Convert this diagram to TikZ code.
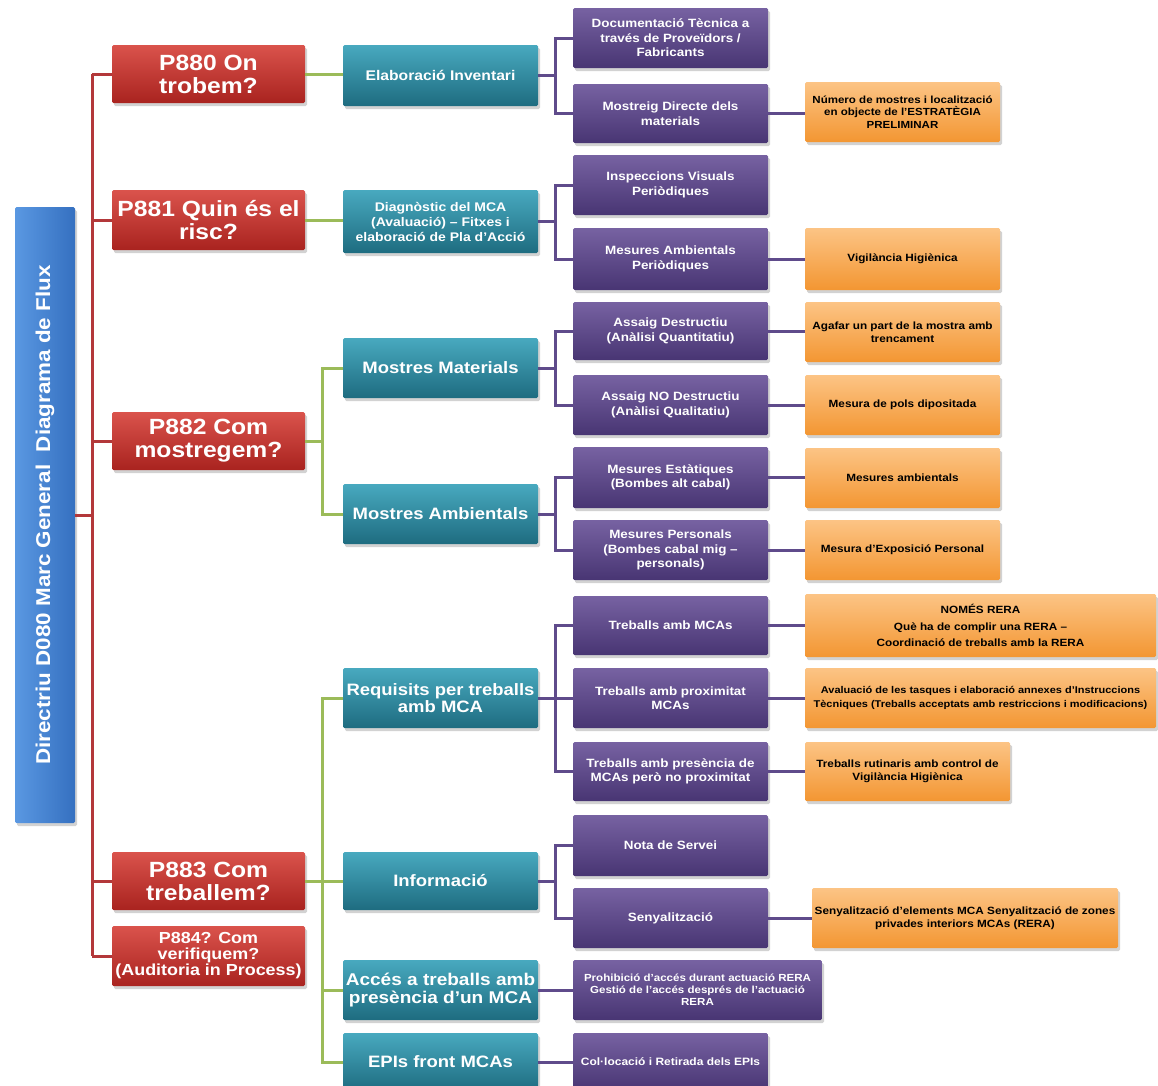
\documentclass[tikz,border=0pt]{standalone}
\usepackage{fontspec}
\setmainfont[FakeStretch=1.12]{Liberation Sans}
\usetikzlibrary{shadows}
\definecolor{redT}{HTML}{DA534C}
\definecolor{redB}{HTML}{A9231F}
\definecolor{tealT}{HTML}{48A9BF}
\definecolor{tealB}{HTML}{1E6C80}
\definecolor{purT}{HTML}{7762A2}
\definecolor{purB}{HTML}{483573}
\definecolor{orT}{HTML}{FCC485}
\definecolor{orB}{HTML}{F39632}
\definecolor{bluL}{HTML}{5A98E2}
\definecolor{bluR}{HTML}{3570C0}
\definecolor{redL}{HTML}{B3383A}
\definecolor{grnL}{HTML}{9BBB59}
\definecolor{purL}{HTML}{5F4B8B}
\newcommand{\fs}[2]{\fontsize{#1}{#2}\selectfont}
\begin{document}
\begin{tikzpicture}[x=1pt,y=-1pt,
  box/.style={draw=none, rounded corners=1.5pt, align=center, inner sep=2pt,
    drop shadow={opacity=0.35, shadow xshift=2pt, shadow yshift=-3pt}},
  redbox/.style={box, top color=redT, bottom color=redB, text=white, minimum width=193, minimum height=58, font=\bfseries\fs{22}{23}},
  tealbox/.style={box, top color=tealT, bottom color=tealB, text=white, minimum width=195, minimum height=60, font=\bfseries\fs{16.5}{17}},
  purbox/.style={box, top color=purT, bottom color=purB, text=white, minimum width=195, minimum height=59, font=\bfseries\fs{12}{14.5}},
  orbox/.style={box, top color=orT, bottom color=orB, text=black, minimum width=195, minimum height=60, font=\bfseries\fs{10.5}{13.5}},
  redline/.style={draw=redL, line width=3pt},
  grnline/.style={draw=grnL, line width=3pt},
  purline/.style={draw=purL, line width=3pt}
]
\useasboundingbox[fill=white] (0,0) rectangle (1158,1085);

% main blue box
\node[box, left color=bluL, right color=bluR, text=white, rotate=90,
  minimum width=616, minimum height=60, font=\bfseries\fs{20}{21}] (main) at (45,515)
  {Directriu D080 Marc General\ \ Diagrama de Flux};

% red boxes
\node[redbox] (p880) at (208.5,74) {P880 On\\trobem?};
\node[redbox, minimum height=60] (p881) at (208.5,220) {P881 Quin és el\\risc?};
\node[redbox] (p882) at (208.5,441) {P882 Com\\mostregem?};
\node[redbox] (p883) at (208.5,881) {P883 Com\\treballem?};
\node[redbox, minimum height=60, font=\bfseries\fs{16}{16}] (p884) at (208.5,956) {P884? Com\\verifiquem?\\(Auditoria in Process)};

% teal boxes
\node[tealbox, minimum height=61, font=\bfseries\fs{14}{15}] (ei) at (440.5,75.5) {Elaboració Inventari};
\node[tealbox, minimum height=63, font=\bfseries\fs{12.5}{15}] (dg) at (440.5,221.5) {Diagnòstic del MCA\\(Avaluació) – Fitxes i\\elaboració de Pla d'Acció};
\node[tealbox] (mm) at (440.5,368) {Mostres Materials};
\node[tealbox] (ma) at (440.5,514) {Mostres Ambientals};
\node[tealbox, font=\bfseries\fs{16.5}{16.5}] (req) at (440.5,698) {Requisits per treballs\\amb MCA};
\node[tealbox, minimum height=58] (info) at (440.5,881) {Informació};
\node[tealbox, font=\bfseries\fs{17}{18}] (acc) at (440.5,990) {Accés a treballs amb\\presència d'un MCA};
\node[tealbox, minimum height=58] (epi) at (440.5,1062) {EPIs front MCAs};

% purple boxes
\node[purbox, minimum height=60] (d1) at (670.5,38) {Documentació Tècnica a\\través de Proveïdors /\\Fabricants};
\node[purbox] (d2) at (670.5,113.5) {Mostreig Directe dels\\materials};
\node[purbox, minimum height=60] (d3) at (670.5,185) {Inspeccions Visuals\\Periòdiques};
\node[purbox, minimum height=62] (d4) at (670.5,259) {Mesures Ambientals\\Periòdiques};
\node[purbox, minimum height=58] (d5) at (670.5,331) {Assaig Destructiu\\(Anàlisi Quantitatiu)};
\node[purbox, minimum height=60] (d6) at (670.5,405) {Assaig NO Destructiu\\(Anàlisi Qualitatiu)};
\node[purbox, minimum height=61] (d7) at (670.5,477.5) {Mesures Estàtiques\\(Bombes alt cabal)};
\node[purbox, minimum height=60] (d8) at (670.5,550) {Mesures Personals\\(Bombes cabal mig –\\personals)};
\node[purbox] (d9) at (670.5,625.5) {Treballs amb MCAs};
\node[purbox, minimum height=60] (d10) at (670.5,698) {Treballs amb proximitat\\MCAs};
\node[purbox] (d11) at (670.5,771.5) {Treballs amb presència de\\MCAs però no proximitat};
\node[purbox, minimum height=61] (d12) at (670.5,845.5) {Nota de Servei};
\node[purbox, minimum height=60] (d13) at (670.5,918) {Senyalització};
\node[purbox, minimum width=249, minimum height=60, font=\bfseries\fs{10.3}{12}] (d14) at (697.5,990) {Prohibició d'accés durant actuació RERA\\Gestió de l'accés després de l'actuació\\RERA};
\node[purbox, minimum height=58, font=\bfseries\fs{10.7}{12}] (d15) at (670.5,1062) {Col·locació i Retirada dels EPIs};

% orange boxes
\node[orbox, font=\bfseries\fs{10.3}{12.5}] (o1) at (902.5,112) {Número de mostres i localització\\en objecte de l'ESTRATÈGIA\\PRELIMINAR};
\node[orbox, minimum height=62] (o2) at (902.5,259) {Vigilància Higiènica};
\node[orbox] (o3) at (902.5,332) {Agafar un part de la mostra amb\\trencament};
\node[orbox] (o4) at (902.5,405) {Mesura de pols dipositada};
\node[orbox] (o5) at (902.5,478) {Mesures ambientals};
\node[orbox] (o6) at (902.5,550) {Mesura d'Exposició Personal};
\node[orbox, minimum width=351, minimum height=63, font=\bfseries\fs{10.5}{16.5}] (o7) at (980.5,625.5) {NOMÉS RERA\\Què ha de complir una RERA –\\Coordinació de treballs amb la RERA};
\node[orbox, minimum width=351, inner sep=1pt, font=\bfseries\fs{9.8}{14}] (o8) at (980.5,698) {Avaluació de les tasques i elaboració annexes d'Instruccions\\Tècniques (Treballs acceptats amb restriccions i modificacions)};
\node[orbox, minimum width=205, minimum height=59] (o9) at (907.5,771.5) {Treballs rutinaris amb control de\\Vigilància Higiènica};
\node[orbox, minimum width=306] (o10) at (965,918) {Senyalització d'elements MCA Senyalització de zones\\privades interiors MCAs (RERA)};

% red connectors
\coordinate (trunk) at (92,515);
\draw[redline] (main.south) -- (trunk);
\draw[redline] (trunk |- p880.west) -- (trunk |- p884.west);
\foreach \n in {p880,p881,p882,p883,p884}
  \draw[redline] (\n.west) -- (trunk |- \n.west);

% green connectors
\draw[grnline] (p880.east) -- (p880.east -| ei.west);
\draw[grnline] (p881.east) -- (p881.east -| dg.west);
\foreach \n in {mm,ma}
  \draw[grnline] (p882.east) -- +(17,0) |- (\n.west);
\foreach \n in {req,info,acc,epi}
  \draw[grnline] (p883.east) -- +(17,0) |- (\n.west);

% purple connectors (teal -> purple)
\foreach \a/\b in {ei/d1,ei/d2,dg/d3,dg/d4,mm/d5,mm/d6,ma/d7,ma/d8,req/d9,req/d10,req/d11,info/d12,info/d13}
  \draw[purline] (\a.east) -- +(17,0) |- (\b.west);
\draw[purline] (acc.east) -- (d14.west);
\draw[purline] (epi.east) -- (d15.west);

% purple connectors (purple -> orange)
\foreach \a/\b in {d2/o1,d4/o2,d5/o3,d6/o4,d7/o5,d8/o6,d9/o7,d10/o8,d11/o9,d13/o10}
  \draw[purline] (\a.east) -- (\a.east -| \b.west);
\end{tikzpicture}
\end{document}
